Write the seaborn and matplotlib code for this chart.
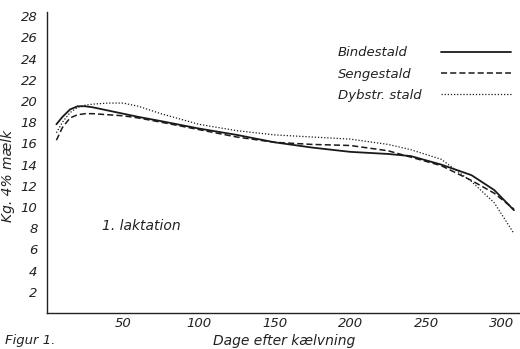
import matplotlib
matplotlib.use("Agg")
import matplotlib.pyplot as plt
import seaborn as sns
import pandas as pd
from matplotlib.lines import Line2D

days = [6, 10, 15, 20, 25, 30, 40, 50, 60, 75, 100, 125, 150, 175, 200, 225, 240, 260, 280, 295, 308]
bindestald = [17.8, 18.5, 19.2, 19.5, 19.5, 19.4, 19.1, 18.8, 18.5, 18.1, 17.4, 16.8, 16.1, 15.6, 15.2, 15.0, 14.8, 14.0, 13.0, 11.6, 9.7]
sengestald = [16.3, 17.5, 18.4, 18.7, 18.8, 18.8, 18.7, 18.6, 18.4, 18.0, 17.3, 16.6, 16.1, 15.9, 15.8, 15.3, 14.7, 13.9, 12.5, 11.3, 9.8]
dybstr = [17.0, 18.0, 18.9, 19.4, 19.6, 19.7, 19.8, 19.8, 19.5, 18.8, 17.8, 17.2, 16.8, 16.6, 16.4, 15.9, 15.4, 14.5, 12.4, 10.4, 7.5]

series_names = ["Bindestald", "Sengestald", "Dybstr. stald"]
series_values = [bindestald, sengestald, dybstr]
line_styles = ["-", (0, (4, 2)), (0, (1, 1.5))]
line_widths = [1.3, 1.1, 0.9]

xticks = [50, 100, 150, 200, 250, 300]
yticks = list(range(2, 29, 2))

sns.set_style("white")
plt.rcParams["font.family"] = ["DejaVu Sans"]

FS = 9.5
INK = "#222222"

fig = plt.figure(figsize=(5.2, 3.49), dpi=100)
ax = fig.add_axes([0.091, 0.103, 0.909, 0.863])

for name, vals, ls, lw in zip(series_names, series_values, line_styles, line_widths):
    df = pd.DataFrame({"day": days, "kg": vals})
    sns.lineplot(data=df, x="day", y="kg", ax=ax, color="#1a1a1a", linestyle=ls, linewidth=lw)

ax.set_xlim(0, 312)
ax.set_ylim(0, 28.4)
ax.set_xticks(xticks)
ax.set_yticks(yticks)
ax.set_xticklabels([str(t) for t in xticks], fontstyle="italic", fontsize=FS)
ax.set_yticklabels([str(t) for t in yticks], fontstyle="italic", fontsize=FS)
ax.tick_params(axis="y", direction="out", length=5, width=0.8, color=INK, pad=2, labelcolor=INK)
ax.tick_params(axis="x", direction="in", length=4, width=0.8, color=INK, pad=3, labelcolor=INK)
for s in ["top", "right"]:
    ax.spines[s].set_visible(False)
for s in ["left", "bottom"]:
    ax.spines[s].set_color(INK)
    ax.spines[s].set_linewidth(1.0)

ax.set_xlabel("Dage efter kælvning", fontstyle="italic", fontsize=FS + 0.5, color=INK, labelpad=3)
ax.set_ylabel("Kg. 4% mælk", fontstyle="italic", fontsize=FS + 0.5, color=INK)
ax.yaxis.set_label_coords(-0.068, 0.455)

ax.text(36, 8.2, "1. laktation", fontstyle="italic", fontsize=FS + 0.5, color=INK, va="center")
fig.text(0.01, 0.013, "Figur 1.", fontstyle="italic", fontsize=FS, color=INK)

handles = [Line2D([0], [0], color="#1a1a1a", linestyle=ls, linewidth=lw) for ls, lw in zip(line_styles, line_widths)]
leg = ax.legend(handles, series_names, loc="upper right", bbox_to_anchor=(1.006, 0.925),
                frameon=False, markerfirst=False, handlelength=5.3, handletextpad=1.0,
                labelspacing=0.62, prop={"style": "italic", "size": FS})

# left-align the legend labels as in the original figure
fig.canvas.draw()
renderer = fig.canvas.get_renderer()
for t, name in zip(leg.get_texts(), series_names):
    bb = t.get_window_extent(renderer)
    yc = (bb.y0 + bb.y1) / 2.0
    t.set_alpha(0)
    fig.text(338 / 520.0, yc / fig.bbox.height, name, fontstyle="italic", fontsize=FS,
             color=INK, va="center", ha="left")

fig.savefig("out.png", dpi=100)
